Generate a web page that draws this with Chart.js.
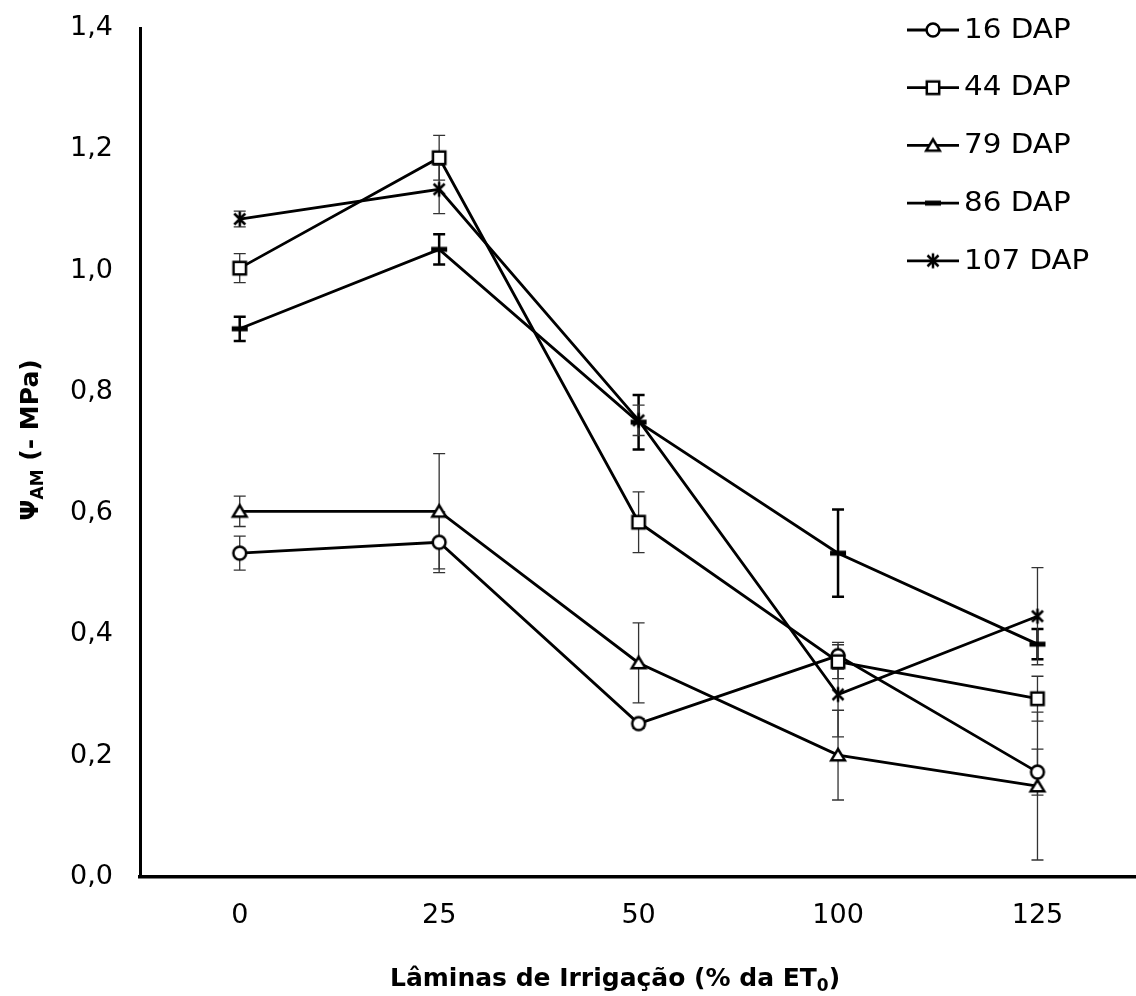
<!DOCTYPE html>
<html><head><meta charset="utf-8">
<script src="https://cdn.jsdelivr.net/npm/chart.js@4.4.1/dist/chart.umd.min.js"></script>
<style>html,body{margin:0;padding:0;background:#fff;overflow:hidden;}#wrap{width:1136px;height:996px;overflow:hidden;}canvas{display:block;}</style>
</head><body><div id="wrap"><canvas id="c" width="1148" height="996"></canvas></div>
<script>
// ---- data ----
const categories = ['0', '25', '50', '100', '125'];
const seriesLabels = ['16 DAP', '44 DAP', '79 DAP', '86 DAP', '107 DAP'];
const dap16 = [0.534, 0.552, 0.253, 0.365, 0.173];
const dap44 = [1.004, 1.186, 0.585, 0.355, 0.294];
const dap79 = [0.603, 0.603, 0.353, 0.201, 0.150];
const dap86 = [0.904, 1.035, 0.750, 0.534, 0.384];
const dap107 = [1.085, 1.134, 0.753, 0.301, 0.430];
const err16 = [0.028, 0.050, 0.008, 0.022, 0.038];
const err44 = [0.024, 0.037, 0.050, 0.028, 0.037];
const err79 = [0.025, 0.095, 0.066, 0.074, 0.122];
const err86 = [0.020, 0.025, 0.045, 0.072, 0.025];
const err107 = [0.013, 0.040, 0.025, 0.070, 0.080];
const yTickValues = [0, 0.2, 0.4, 0.6, 0.8, 1.0, 1.2, 1.4];
const yTickLabels = ['0,0', '0,2', '0,4', '0,6', '0,8', '1,0', '1,2', '1,4'];
const xTitle = 'Lâminas de Irrigação (% da ET';
const xTitleSub = '0';
const yTitleMain = 'Ψ';
const yTitleSub = 'AM';
const yTitleRest = ' (- MPa)';

const FONT = "'DejaVu Sans', 'Liberation Sans', Arial, sans-serif";

function makeMarker(type) {
  const c = document.createElement('canvas');
  c.width = 22; c.height = 22;
  const g = c.getContext('2d');
  const cx = 11, cy = 11;
  g.lineWidth = 2.5; g.strokeStyle = '#000'; g.fillStyle = '#fff';
  g.beginPath();
  if (type === 'circle') {
    g.arc(cx, cy, 6.4, 0, Math.PI * 2); g.fill(); g.stroke();
  } else if (type === 'square') {
    g.rect(cx - 6.2, cy - 6.2, 12.4, 12.4); g.fill(); g.stroke();
  } else if (type === 'triangle') {
    g.moveTo(cx, cy - 6); g.lineTo(cx + 6.8, cy + 5.2); g.lineTo(cx - 6.8, cy + 5.2); g.closePath(); g.fill(); g.stroke();
  } else if (type === 'dash') {
    g.fillStyle = '#000'; g.fillRect(cx - 8, cy - 2.5, 16, 5);
  } else if (type === 'star') {
    g.moveTo(cx - 5.5, cy - 5.5); g.lineTo(cx + 5.5, cy + 5.5);
    g.moveTo(cx - 5.5, cy + 5.5); g.lineTo(cx + 5.5, cy - 5.5);
    g.moveTo(cx, cy - 7.5); g.lineTo(cx, cy + 7.5);
    g.stroke();
  }
  return c;
}
const markerTypes = ['circle', 'square', 'triangle', 'dash', 'star'];
const markers = markerTypes.map(makeMarker);
const seriesValues = [dap16, dap44, dap79, dap86, dap107];
const seriesErrors = [err16, err44, err79, err86, err107];

const datasets = seriesValues.map((vals, i) => ({
  label: seriesLabels[i],
  data: vals,
  errors: seriesErrors[i],
  errWidth: i === 3 ? 2.5 : 1.3,
  errColor: i === 3 ? '#000' : '#333',
  borderColor: '#000',
  borderWidth: 2.8,
  pointStyle: markers[i],
  pointRadius: 8,
  pointHoverRadius: 8,
  tension: 0,
  fill: false,
  order: 5 - i
}));

const errorBarPlugin = {
  id: 'errorBars',
  beforeDatasetsDraw(chart) {
    const ctx = chart.ctx, xs = chart.scales.x, ys = chart.scales.y;
    chart.data.datasets.forEach(ds => {
      ds.errors.forEach((e, i) => {
        const x = xs.getPixelForValue(i);
        const v = ds.data[i];
        const yTop = ys.getPixelForValue(v + e), yBot = ys.getPixelForValue(v - e);
        ctx.save();
        ctx.strokeStyle = ds.errColor; ctx.lineWidth = ds.errWidth;
        ctx.beginPath();
        ctx.moveTo(x, yTop); ctx.lineTo(x, yBot);
        ctx.moveTo(x - 6, yTop); ctx.lineTo(x + 6, yTop);
        ctx.moveTo(x - 6, yBot); ctx.lineTo(x + 6, yBot);
        ctx.stroke();
        ctx.restore();
      });
    });
  }
};

function drawStretched(ctx, text, x, y, sx) {
  ctx.save();
  ctx.translate(x, y);
  ctx.scale(sx, 1);
  ctx.fillText(text, 0, 0);
  ctx.restore();
}

const decorPlugin = {
  id: 'decor',
  afterDraw(chart) {
    const ctx = chart.ctx;
    // legend
    ctx.save();
    chart.data.datasets.forEach((ds, i) => {
      const y = 30 + i * 57.7;
      ctx.strokeStyle = '#000'; ctx.lineWidth = 2.8;
      ctx.beginPath(); ctx.moveTo(907, y); ctx.lineTo(959, y); ctx.stroke();
      const m = ds.pointStyle;
      ctx.drawImage(m, 933 - m.width / 2, y - m.height / 2);
      ctx.fillStyle = '#000';
      ctx.font = '26px ' + FONT;
      ctx.textAlign = 'left'; ctx.textBaseline = 'middle';
      drawStretched(ctx, ds.label, 964, y + 1, 1.13);
    });
    ctx.restore();
    // x title
    ctx.save();
    ctx.fillStyle = '#000';
    ctx.textBaseline = 'alphabetic'; ctx.textAlign = 'left';
    const st = 1.0;
    ctx.font = 'bold 25px ' + FONT;
    const w1 = ctx.measureText(xTitle).width * st;
    ctx.font = 'bold 17px ' + FONT;
    const w2 = ctx.measureText(xTitleSub).width * st;
    const x0 = 390;
    const by = 986;
    ctx.font = 'bold 25px ' + FONT;
    drawStretched(ctx, xTitle, x0, by, st);
    ctx.font = 'bold 17px ' + FONT;
    drawStretched(ctx, xTitleSub, x0 + w1, by + 5, st);
    ctx.font = 'bold 25px ' + FONT;
    drawStretched(ctx, ')', x0 + w1 + w2, by, st);
    ctx.restore();
    // y title (rotated)
    ctx.save();
    ctx.fillStyle = '#000';
    ctx.translate(38, 440);
    ctx.rotate(-Math.PI / 2);
    ctx.textBaseline = 'alphabetic'; ctx.textAlign = 'left';
    ctx.font = 'bold 25px ' + FONT;
    const a = ctx.measureText(yTitleMain).width;
    const c = ctx.measureText(yTitleRest).width;
    ctx.font = 'bold 17px ' + FONT;
    const b = ctx.measureText(yTitleSub).width;
    let sx = -(a + b + c) / 2;
    ctx.font = 'bold 25px ' + FONT;
    ctx.fillText(yTitleMain, sx, 0);
    ctx.font = 'bold 17px ' + FONT;
    ctx.fillText(yTitleSub, sx + a, 5);
    ctx.font = 'bold 25px ' + FONT;
    ctx.fillText(yTitleRest, sx + a + b, 0);
    ctx.restore();
  }
};

Chart.defaults.font.family = FONT;
Chart.defaults.color = '#000';

new Chart(document.getElementById('c'), {
  type: 'line',
  data: { labels: categories, datasets },
  options: {
    responsive: false,
    animation: false,
    devicePixelRatio: 1,
    events: [],
    layout: { padding: { top: 28, right: 0, left: 0, bottom: 0 } },
    plugins: { legend: { display: false }, tooltip: { enabled: false }, title: { display: false } },
    scales: {
      x: {
        type: 'category',
        offset: true,
        grid: { display: false, drawTicks: false },
        border: { display: true, color: '#000', width: 3.5 },
        ticks: { font: { size: 27 }, color: '#000', padding: 23, maxRotation: 0, autoSkip: false },
        afterFit(s) { s.height = 996 - 877; s.paddingLeft = 0; s.paddingRight = 0; }
      },
      y: {
        min: 0, max: 1.4,
        grid: { display: false, drawTicks: false },
        border: { display: true, color: '#000', width: 3 },
        afterBuildTicks(s) { s.ticks = yTickValues.map(v => ({ value: v })); },
        ticks: {
          font: { size: 27 }, color: '#000', padding: 27,
          callback: (v, i) => yTickLabels[i]
        },
        afterFit(s) { s.width = 140; s.paddingTop = 0; s.paddingBottom = 0; }
      }
    }
  },
  plugins: [errorBarPlugin, decorPlugin]
});
</script>
</body></html>
